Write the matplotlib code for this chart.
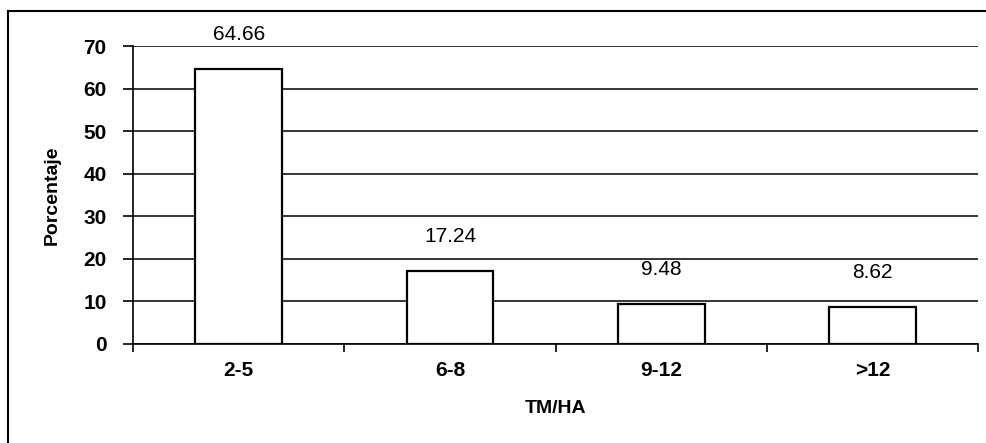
import matplotlib.pyplot as plt
from matplotlib.lines import Line2D
import numpy as np

plt.rcParams['font.family'] = ['Liberation Sans', 'DejaVu Sans']

categories = ['2-5', '6-8', '9-12', '>12']
porcentaje = [64.66, 17.24, 9.48, 8.62]
value_labels = ['64.66', '17.24', '9.48', '8.62']

fig = plt.figure(figsize=(9.87, 4.43), dpi=100)
ax = fig.add_axes([0.1348, 0.2235, 0.991 - 0.1348, 0.896 - 0.2235])

x = np.arange(len(categories))
ax.bar(x, porcentaje, width=0.41, color='white', edgecolor='black', linewidth=1.6, zorder=3)

for xi, v, lab in zip(x, porcentaje, value_labels):
    ax.annotate(lab, (xi, v), xytext=(0, 18), textcoords='offset points',
                ha='center', va='bottom', fontsize=15, zorder=4)

ax.set_xlim(-0.5, len(categories) - 0.5)
ax.set_ylim(0, 70)
ax.set_yticks(range(0, 71, 10))
ax.yaxis.grid(True, color='black', linewidth=1.1)
ax.set_axisbelow(True)

# category labels centred, ticks at the boundaries
ax.set_xticks(x)
ax.set_xticklabels(categories, fontsize=15, fontweight='bold')
ax.tick_params(axis='x', length=0, pad=12)
ax.set_xticks(np.arange(len(categories) + 1) - 0.5, minor=True)
ax.tick_params(axis='x', which='minor', length=6, width=1.2, direction='out')
ax.tick_params(axis='y', length=7, width=1.2, labelsize=15, pad=12)
for t in ax.get_yticklabels():
    t.set_fontweight('bold')

for s in ['top', 'right']:
    ax.spines[s].set_visible(False)
ax.spines['left'].set_linewidth(1.2)
ax.spines['bottom'].set_linewidth(1.2)

ax.set_ylabel('Porcentaje', fontsize=14, fontweight='bold', labelpad=16)
ax.set_xlabel('TM/HA', fontsize=14, fontweight='bold', labelpad=15)

# outer frame of the chart area
fig.add_artist(Line2D([8 / 987, 8 / 987], [0, 1 - 11 / 443], transform=fig.transFigure, color='black', linewidth=1.5))
fig.add_artist(Line2D([8 / 987, 1], [1 - 11 / 443, 1 - 11 / 443], transform=fig.transFigure, color='black', linewidth=1.5))

fig.savefig('out.png', dpi=100, facecolor='white')
